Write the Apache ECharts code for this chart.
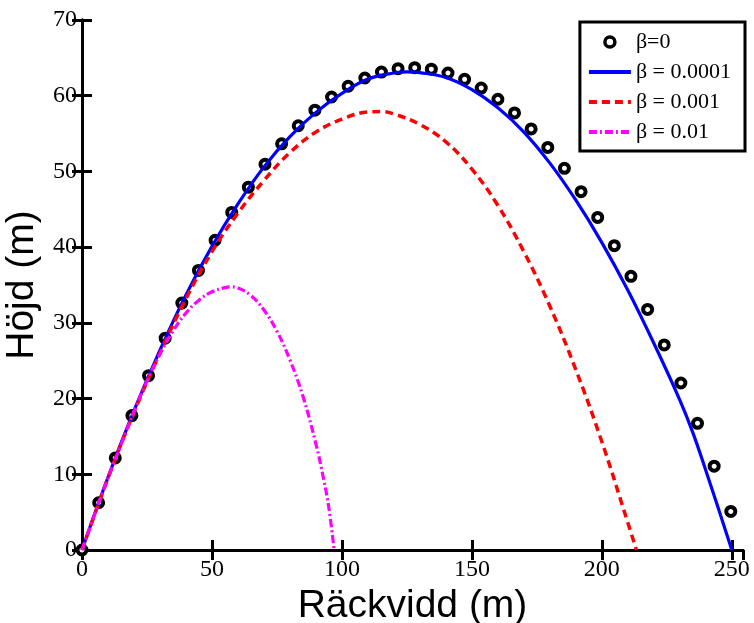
<!DOCTYPE html>
<html><head><meta charset="utf-8">
<script src="https://cdn.jsdelivr.net/npm/echarts@6/dist/echarts.min.js"></script>
<style>html,body{margin:0;padding:0;background:#fff}#c{width:754px;height:623px}</style>
</head><body><div id="c"></div>
<script>
// beta = 0 (open circles)
const dotsX = [0,6.4,12.8,19.2,25.6,32.0,38.4,44.8,51.2,57.6,64.0,70.4,76.8,83.2,89.6,96.0,102.4,108.8,115.2,121.6,128.0,134.4,140.8,147.2,153.6,160.0,166.4,172.8,179.2,185.6,192.0,198.4,204.8,211.2,217.6,224.0,230.4,236.8,243.2,249.6];
const dotsY = [0,6.24,12.16,17.75,23.03,27.98,32.61,36.92,40.91,44.58,47.92,50.95,53.65,56.03,58.09,59.83,61.25,62.34,63.12,63.57,63.70,63.51,63.00,62.16,61.01,59.53,57.73,55.61,53.17,50.41,47.32,43.92,40.19,36.14,31.77,27.08,22.06,16.73,11.07,5.09];
// beta = 0.0001
const blueX = [0,10,20,30,40,50,60,70,80,90,100,110,120,125,130,140,150,160,170,180,190,200,210,220,230,235,240,245,250];
const blueY = [0,9.6,18.4,26.4,33.7,40.1,45.7,50.6,54.6,57.8,60.3,62.2,63.0,63.15,63.05,62.4,60.8,58.4,55.2,51.1,46.2,40.6,34.3,27.3,19.8,15.5,10.5,5.3,0];
// beta = 0.001
const redX = [0,10,20,30,40,50,60,70,80,90,100,110,115,120,130,140,150,160,170,180,190,200,210,213.3];
const redY = [0,9.5,18.2,26.0,33.2,39.4,44.5,48.8,52.5,55.2,56.9,57.85,57.9,57.6,56.2,53.9,50.3,45.5,39.4,32.2,23.8,14.3,3.6,0];
// beta = 0.01
const magX = [0,5,10,15,20,25,30,35,40,45,50,55,57,60,65,70,75,80,85,90,93,95,97];
const magY = [0,4.85,9.5,13.9,18.3,22.3,25.9,28.9,31.3,33.0,34.1,34.65,34.75,34.6,33.6,31.7,28.9,25.1,20.3,14.0,9.3,5.5,0];

const seriesNames = ['β=0','β = 0.0001','β = 0.001','β = 0.01'];
const xName = 'Räckvidd (m)';
const yName = 'Höjd (m)';
const xMin = 0, xMax = 254.3, xStep = 50;
const yMin = 0, yMax = 70, yStep = 10;

const pairs = (xs, ys) => xs.map((x, i) => [x, ys[i]]);

const chart = echarts.init(document.getElementById('c'), null, {renderer: 'canvas'});
const serif = 'Liberation Serif, Times New Roman, serif';
const sans = 'Liberation Sans, Arial, Helvetica, sans-serif';
const axLine = {show: true, lineStyle: {color: '#000', width: 3}};
const axTick = {show: true, inside: true, length: 10, lineStyle: {color: '#000', width: 3}};

chart.setOption({
  animation: false,
  backgroundColor: '#fff',
  grid: {left: 82, top: 20, right: 11, bottom: 73, containLabel: false, outerBoundsMode: 'none'},
  legend: {
    orient: 'vertical', right: 9, top: 22,
    backgroundColor: '#fff', borderColor: '#000', borderWidth: 3, borderRadius: 0,
    padding: [9, 14, 8, 7],
    itemWidth: 42, itemHeight: 10, itemGap: 8,
    lineStyle: {width: 4},
    textStyle: {fontFamily: serif, fontSize: 22, color: '#000'},
    data: [
      {name: seriesNames[0], itemStyle: {color: '#fff', borderColor: '#000', borderWidth: 3.5, opacity: 1}},
      {name: seriesNames[1], itemStyle: {opacity: 0}},
      {name: seriesNames[2], itemStyle: {opacity: 0}},
      {name: seriesNames[3], itemStyle: {opacity: 0}}
    ]
  },
  xAxis: [
    {type: 'value', min: xMin, max: xMax, interval: xStep, position: 'bottom',
     axisLine: axLine, axisTick: axTick, splitLine: {show: false},
     axisLabel: {fontFamily: serif, fontSize: 24, color: '#000', margin: 8, showMaxLabel: false},
     name: xName, nameLocation: 'middle', nameGap: 35,
     nameTextStyle: {fontFamily: sans, fontSize: 39, color: '#000'}},
    {type: 'value', min: xMin, max: xMax, interval: xStep, position: 'top',
     axisLine: axLine, axisTick: axTick, splitLine: {show: false}, axisLabel: {show: false}}
  ],
  yAxis: [
    {type: 'value', min: yMin, max: yMax, interval: yStep, position: 'left',
     axisLine: axLine, axisTick: axTick, splitLine: {show: false},
     axisLabel: {fontFamily: serif, fontSize: 24, color: '#000', margin: 5},
     name: yName, nameLocation: 'middle', nameGap: 27, nameRotate: 90,
     nameTextStyle: {fontFamily: sans, fontSize: 39, color: '#000'}},
    {type: 'value', min: yMin, max: yMax, interval: yStep, position: 'right',
     axisLine: axLine, axisTick: axTick, splitLine: {show: false}, axisLabel: {show: false}}
  ],
  series: [
    {name: seriesNames[0], type: 'scatter', data: pairs(dotsX, dotsY),
     symbol: 'circle', symbolSize: 9,
     itemStyle: {color: '#fff', borderColor: '#000', borderWidth: 4, opacity: 1}},
    {name: seriesNames[1], type: 'line', data: pairs(blueX, blueY), symbol: 'none', smooth: 0.4,
     lineStyle: {color: '#0000ff', width: 3.2, type: 'solid'}, itemStyle: {color: '#0000ff'}},
    {name: seriesNames[2], type: 'line', data: pairs(redX, redY), symbol: 'none', smooth: 0.4,
     lineStyle: {color: '#ff0000', width: 3.5, type: [8, 5]}, itemStyle: {color: '#ff0000'}},
    {name: seriesNames[3], type: 'line', data: pairs(magX, magY), symbol: 'none', smooth: 0.4,
     lineStyle: {color: '#ff00ff', width: 3.2, type: [8, 3, 2, 3]}, itemStyle: {color: '#ff00ff'}}
  ]
});
</script>
</body></html>
